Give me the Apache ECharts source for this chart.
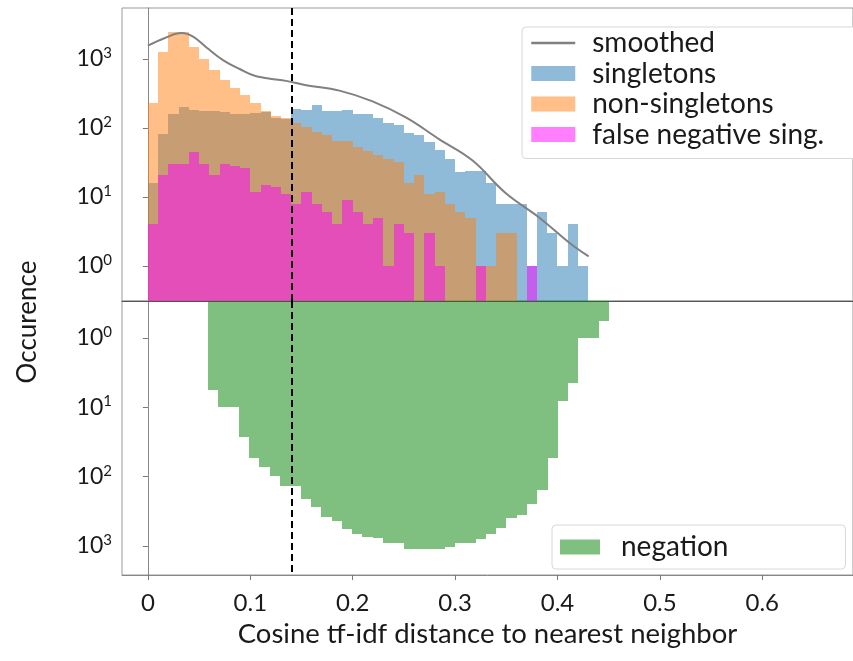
<!DOCTYPE html>
<html>
<head>
<meta charset="utf-8">
<script src="https://cdn.jsdelivr.net/npm/echarts@6/dist/echarts.min.js"></script>
<style>
  html, body { margin: 0; padding: 0; background: #fff; }
  #chart { width: 853px; height: 661px; }
</style>
</head>
<body>
<div id="chart"></div>
<script>
// bins of the histograms
var topBinStart = 0;
var topBinWidth = 0.01;
var negBinStart = 0.0587;
var negBinWidth = 0.01005;

// counts per bin
var singletons = [16, 83, 160, 203, 184, 176, 176, 170, 160, 160, 165, 170, 140, 135, 190, 184, 215, 175, 176, 180,
  160, 158, 140, 118, 110, 86, 80, 63, 48, 35, 23, 24, 24, 16, 8, 8, 8, 1, 6, 3, 1, 4, 1];
var nonSingletons = [234, 1270, 2500, 2500, 1470, 1000, 690, 500, 375, 300, 232, 178, 150, 138, 118, 105, 88, 78, 65, 65,
  53, 47, 40, 36, 32, 16, 21, 11, 12, 8, 6, 5, 1, 1, 3, 3];
var falseNegSing = [4, 21, 30, 30, 45, 30, 21, 30, 28, 26, 12, 15, 14, 11, 8, 12, 8, 6, 4, 9,
  6, 4, 5, 1, 4, 3, 0, 3, 1, 0, 0, 0, 1, 0, 0, 0, 0, 1];
var negation = [5.6, 10, 10, 27, 54, 73, 99, 138, 138, 207, 274, 383, 441, 562, 672, 736, 758, 908, 908, 1087,
  1087, 1087, 1087, 1025, 908, 908, 805, 672, 548, 392, 360, 248, 154, 54, 8.1, 4.5, 1, 1, 0.56];

// smoothed curve
var smoothX = [0, 0.016, 0.0328, 0.0441, 0.0572, 0.0733, 0.0896, 0.1058, 0.135, 0.1545, 0.187, 0.2194,
  0.2519, 0.2843, 0.3168, 0.3493, 0.3817, 0.4141, 0.4304];
var smoothY = [1557, 2000, 2371, 2104, 1469, 965, 716, 562, 482, 417, 348, 243,
  142, 69, 34, 11.4, 5.1, 2.03, 1.38];

var thresholdX = 0.135;
var xTicks = [0, 0.1, 0.2, 0.3, 0.4, 0.5, 0.6];

var FONT = 'Lato';

function toBins(start, width, values) {
  var out = [];
  values.forEach(function (v, i) {
    if (v > 0) out.push([start + i * width, start + (i + 1) * width, v]);
  });
  return out;
}

// bar going up from the bottom of the top grid
function barUp(params, api) {
  var a = api.coord([api.value(0), api.value(2)]);
  var b = api.coord([api.value(1), api.value(2)]);
  var cs = params.coordSys;
  var x0 = Math.round(a[0]), x1 = Math.round(b[0]);
  var y = Math.round(a[1]);
  return {
    type: 'rect',
    shape: { x: x0, y: y, width: x1 - x0, height: cs.y + cs.height - y },
    style: { fill: api.visual('color') }
  };
}
// bar going down from the top of the bottom grid
function barDown(params, api) {
  var a = api.coord([api.value(0), api.value(2)]);
  var b = api.coord([api.value(1), api.value(2)]);
  var cs = params.coordSys;
  var x0 = Math.round(a[0]), x1 = Math.round(b[0]);
  var y = Math.round(a[1]);
  return {
    type: 'rect',
    shape: { x: x0, y: cs.y, width: x1 - x0, height: y - cs.y },
    style: { fill: api.visual('color') }
  };
}

function powLabel(v) {
  return '10{s|' + Math.round(Math.log10(v)) + '}';
}

var yLabel = {
  formatter: powLabel,
  showMinLabel: false,
  showMaxLabel: false,
  color: '#1a1a1a',
  fontSize: 23,
  fontFamily: FONT,
  margin: 10,
  rich: {
    s: { fontSize: 15, fontFamily: FONT, color: '#1a1a1a', padding: [0, 0, 12, 0] }
  }
};

var chart = echarts.init(document.getElementById('chart'));
var option = {
  animation: false,
  textStyle: { fontFamily: FONT },
  grid: [
    { left: 122, right: -2, top: 8, height: 293, show: true, borderColor: '#999', borderWidth: 1 },
    { left: 122, right: -2, top: 301, height: 274, show: true, borderColor: '#999', borderWidth: 1 }
  ],
  xAxis: [
    {
      gridIndex: 0, type: 'value', min: -0.0253, max: 0.6886,
      axisLine: { show: true, onZero: false, lineStyle: { color: '#555', width: 1 } },
      axisTick: { show: false }, axisLabel: { show: false }, splitLine: { show: false }
    },
    {
      gridIndex: 1, type: 'value', min: -0.0253, max: 0.6886,
      axisLine: { show: true, onZero: false, lineStyle: { color: '#888', width: 1 } },
      axisTick: { show: true, length: 5, customValues: xTicks, lineStyle: { color: '#777' } },
      axisLabel: {
        customValues: xTicks, color: '#1a1a1a', fontSize: 24, fontFamily: FONT, margin: 16,
        formatter: function (v) { return String(v); }
      },
      splitLine: { show: false },
      name: 'Cosine tf-idf distance to nearest neighbor',
      nameLocation: 'middle', nameGap: 45,
      nameTextStyle: { fontSize: 27.5, color: '#1a1a1a', fontFamily: FONT }
    }
  ],
  yAxis: [
    {
      gridIndex: 0, type: 'log', min: 0.311, max: 5483,
      axisLine: { show: true, lineStyle: { color: '#888' } },
      axisTick: { show: true, length: 5, lineStyle: { color: '#777' } },
      axisLabel: yLabel,
      splitLine: { show: false }
    },
    {
      gridIndex: 1, type: 'log', min: 0.2926, max: 2618, inverse: true,
      axisLine: { show: true, lineStyle: { color: '#888' } },
      axisTick: { show: true, length: 5, lineStyle: { color: '#777' } },
      axisLabel: yLabel,
      splitLine: { show: false }
    }
  ],
  legend: [
    {
      data: [
        { name: 'smoothed', itemStyle: { opacity: 0 } },
        { name: 'singletons', icon: 'rect' },
        { name: 'non-singletons', icon: 'rect' },
        { name: 'false negative sing.', icon: 'rect' }
      ],
      orient: 'vertical', left: 522, top: 27,
      itemWidth: 44, itemHeight: 15, itemGap: 2.5,
      padding: [2, 33, 10, 8],
      borderColor: '#d8d8d8', borderWidth: 1, borderRadius: 4,
      backgroundColor: '#fff',
      lineStyle: { width: 2.5 },
      textStyle: { fontSize: 28, lineHeight: 28, color: '#1a1a1a', fontFamily: FONT, padding: [0, 0, 0, 12] },
      selectedMode: false
    },
    {
      data: [{ name: 'negation', icon: 'rect' }],
      left: 552, top: 525,
      itemWidth: 40, itemHeight: 15,
      padding: [8, 117, 8, 8],
      borderColor: '#d8d8d8', borderWidth: 1, borderRadius: 4,
      backgroundColor: '#fff',
      textStyle: { fontSize: 28, lineHeight: 28, color: '#1a1a1a', fontFamily: FONT, padding: [0, 0, 0, 16] },
      selectedMode: false
    }
  ],
  graphic: [
    {
      type: 'text', x: 28, y: 322, rotation: Math.PI / 2,
      style: { text: 'Occurence', fontSize: 26, fontFamily: FONT, fill: '#1a1a1a', align: 'center', verticalAlign: 'middle' }
    }
  ],
  series: [
    {
      name: 'singletons', type: 'custom', xAxisIndex: 0, yAxisIndex: 0,
      renderItem: barUp, encode: { x: [0, 1], y: 2 },
      itemStyle: { color: 'rgba(31,119,180,0.5)' },
      data: toBins(topBinStart, topBinWidth, singletons)
    },
    {
      name: 'non-singletons', type: 'custom', xAxisIndex: 0, yAxisIndex: 0,
      renderItem: barUp, encode: { x: [0, 1], y: 2 },
      itemStyle: { color: 'rgba(255,127,14,0.5)' },
      data: toBins(topBinStart, topBinWidth, nonSingletons)
    },
    {
      name: 'false negative sing.', type: 'custom', xAxisIndex: 0, yAxisIndex: 0,
      renderItem: barUp, encode: { x: [0, 1], y: 2 },
      itemStyle: { color: 'rgba(255,0,255,0.5)' },
      data: toBins(topBinStart, topBinWidth, falseNegSing)
    },
    {
      name: 'smoothed', type: 'line', xAxisIndex: 0, yAxisIndex: 0,
      smooth: 0.4, symbol: 'none', z: 5,
      lineStyle: { color: '#808080', width: 2 },
      itemStyle: { color: '#808080' },
      data: smoothX.map(function (x, i) { return [x, smoothY[i]]; }),
      markLine: {
        silent: true, symbol: 'none', label: { show: false },
        lineStyle: { color: '#000', type: [7, 4], width: 2 },
        data: [{ xAxis: thresholdX }]
      }
    },
    {
      name: 'negation', type: 'custom', xAxisIndex: 1, yAxisIndex: 1,
      renderItem: barDown, encode: { x: [0, 1], y: 2 },
      itemStyle: { color: 'rgba(0,128,0,0.5)' },
      data: toBins(negBinStart, negBinWidth, negation),
      markLine: {
        silent: true, symbol: 'none', label: { show: false },
        lineStyle: { color: '#000', type: [7, 4], width: 2 },
        data: [{ xAxis: thresholdX }]
      }
    }
  ]
};
chart.setOption(option);
</script>
</body>
</html>
